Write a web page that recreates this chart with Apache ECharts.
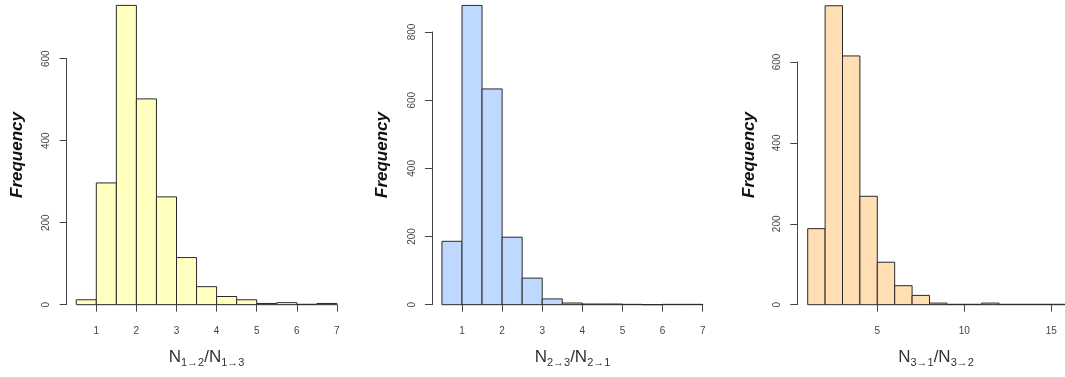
<!DOCTYPE html>
<html>
<head>
<meta charset="utf-8">
<script src="https://cdn.jsdelivr.net/npm/echarts@6/dist/echarts.min.js"></script>
<style>html,body{margin:0;padding:0;background:#fff}#c{width:1065px;height:377px}</style>
</head>
<body>
<div id="c"></div>
<script>
// ---- data ----
const edges1 = [0.5,1,1.5,2,2.5,3,3.5,4,4.5,5,5.5,6,6.5,7];
const counts1 = [12,297,730,502,263,115,44,20,12,3,5,1,3];
const xTicks1 = [1,2,3,4,5,6,7];
const yTicks1 = [0,200,400,600];

const edges2 = [0.5,1,1.5,2,2.5,3,3.5,4,4.5,5,5.5,6,6.5,7];
const counts2 = [186,878,633,198,78,17,5,2,2,1,0,1,1];
const xTicks2 = [1,2,3,4,5,6,7];
const yTicks2 = [0,200,400,600,800];

const edges3 = [1,2,3,4,5,6,7,8,9,10,11,12,13,14,15,16];
const counts3 = [188,739,615,268,105,47,23,4,1,1,4,1,1,1,1];
const xTicks3 = [5,10,15];
const yTicks3 = [0,200,400,600];

const labelRich = ['{n|N}{s|1→2}{n|/N}{s|1→3}','{n|N}{s|2→3}{n|/N}{s|2→1}','{n|N}{s|3→1}{n|/N}{s|3→2}'];
const fills = ['#FFFFBF','#BFD8FF','#FFDEB4'];

// ---- layout ----
const FONT = '"Liberation Sans", Arial, Helvetica, sans-serif';
const panels = [
  {edges:edges1, counts:counts1, xt:xTicks1, yt:yTicks1, left:96.3, width:240.6, top:58.7, height:246, yOff:29.6, fx:17, tx:206.6},
  {edges:edges2, counts:counts2, xt:xTicks2, yt:yTicks2, left:462, width:240.7, top:32, height:272.7, yOff:30, fx:382, tx:572.5},
  {edges:edges3, counts:counts3, xt:xTicks3, yt:yTicks3, left:877.3, width:174, top:62, height:242.7, yOff:80, fx:749, tx:936}
];

const grid=[], xAxis=[], yAxis=[], series=[], graphic=[];
panels.forEach((p,i)=>{
  grid.push({left:p.left, top:p.top, width:p.width, height:p.height, containLabel:false});
  const xmin=p.xt[0], xmax=p.xt[p.xt.length-1], xint=p.xt[1]-p.xt[0];
  const ymax=p.yt[p.yt.length-1], yint=p.yt[1]-p.yt[0];
  xAxis.push({type:'value', gridIndex:i, min:xmin, max:xmax, interval:xint, offset:12.3,
    axisLine:{show:true, lineStyle:{color:'#444', width:1}},
    axisTick:{show:true, length:7, inside:false, lineStyle:{color:'#444'}},
    axisLabel:{fontSize:10, color:'#444', margin:9, fontFamily:FONT},
    splitLine:{show:false}});
  yAxis.push({type:'value', gridIndex:i, min:0, max:ymax, interval:yint, offset:p.yOff,
    axisLine:{show:true, lineStyle:{color:'#444', width:1}},
    axisTick:{show:true, length:7, lineStyle:{color:'#444'}},
    axisLabel:{fontSize:10, color:'#444', margin:20, rotate:90, fontFamily:FONT, verticalAlign:'middle', align:'center'},
    splitLine:{show:false}});
  const data = p.counts.map((c,k)=>[p.edges[k], p.edges[k+1], c]);
  const fill = fills[i];
  series.push({type:'custom', xAxisIndex:i, yAxisIndex:i, clip:false, data:data,
    encode:{x:[0,1], y:2},
    renderItem:(params, api)=>{
      const a = api.coord([api.value(0), api.value(2)]);
      const b = api.coord([api.value(1), 0]);
      return {type:'rect', shape:{x:a[0], y:a[1], width:b[0]-a[0], height:b[1]-a[1]},
        style:{fill:fill, stroke:'#2a2a2a', lineWidth:1}};
    }});
  graphic.push({type:'text', x:p.fx, y:155, rotation:Math.PI/2,
    style:{text:'Frequency', font:'italic bold 17px '+FONT, fill:'#111', align:'center', verticalAlign:'middle'}});
  graphic.push({type:'text', x:p.tx, y:357,
    style:{text:labelRich[i], align:'center', verticalAlign:'middle', fill:'#333',
      rich:{n:{fontSize:17, fontFamily:FONT, fill:'#333', lineHeight:22, verticalAlign:'middle'},
            s:{fontSize:11, fontFamily:FONT, fill:'#333', lineHeight:22, verticalAlign:'bottom', padding:[8,0,0,0]}}}});
});

const chart = echarts.init(document.getElementById('c'), null, {renderer:'canvas'});
chart.setOption({animation:false, backgroundColor:'#fff', grid, xAxis, yAxis, series, graphic});
</script>
</body>
</html>
